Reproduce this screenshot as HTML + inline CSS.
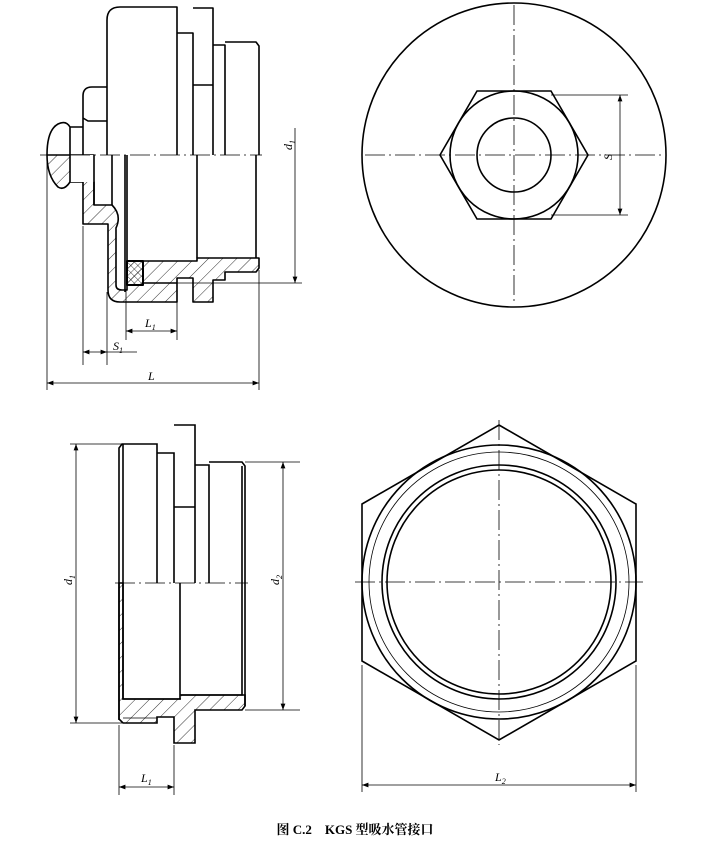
<!DOCTYPE html>
<html><head><meta charset="utf-8"><style>
html,body{margin:0;padding:0;background:#fff;width:711px;height:842px;overflow:hidden}
svg{display:block}
text{font-family:"Liberation Serif","Noto Serif CJK SC",serif;font-style:italic;font-size:12px;fill:#000}
</style></head><body>
<svg width="711" height="842" viewBox="0 0 711 842" xmlns="http://www.w3.org/2000/svg">
<defs>
<pattern id="h" width="10" height="10" patternUnits="userSpaceOnUse" patternTransform="rotate(45)">
<line x1="0" y1="0" x2="0" y2="10" stroke="#000" stroke-width="0.8"/></pattern>
<pattern id="x" width="5" height="5" patternUnits="userSpaceOnUse" patternTransform="rotate(45)">
<path d="M0 0V5M0 0H5" stroke="#000" stroke-width="0.7"/></pattern>
<marker id="a" markerWidth="8" markerHeight="6" refX="8" refY="3" orient="auto-start-reverse"><path d="M0 0L8 3L0 6z" fill="#000"/></marker>
</defs>
<g fill="none" stroke="#000" stroke-width="1.6" stroke-linejoin="round">
<!-- TOP LEFT upper half -->
<path d="M107 155V20Q107 7 120 7H177V155"/>
<path d="M177 33H193V155M193 8H213V155M193 85H213M213 45H225V155M225 42H256L259 46V155"/>
<path d="M83 155V96Q83 87 92 87H107M83 118L88 121H107"/>
<path d="M70 155V127H83M47 155Q47 130 58 124Q66 120 70 127"/>
<!-- lower section hatched -->
<path fill="url(#h)" d="M47 155Q47 176 58 187Q64 191 70 182H83V224H108V290Q108 302 120 302H177V278H193V302H213V280H225V272H256L259 268V258H197V261H127V290H122Q116 290 116 285V228Q122 215 112 205H94V182Q83 165 94 155Z"/>
<path fill="#fff" d="M70 155H94V182H70Z" stroke="none"/>
<path d="M70 155V182M94 155V205M112 155V205M125 155V292"/>
<rect x="127" y="261" width="16" height="24" fill="url(#x)" stroke-width="2"/>
<path d="M143 283H177M197 155V258M127 155V261M256 155V258"/>
</g>
<g fill="none" stroke="#000" stroke-width="0.8">
<path d="M40 155H262" stroke-dasharray="20 4 2 4"/>
<path d="M177 283H302"/>
<path d="M47 160V390M83 226V365M107 292V365M126 290V340M177 290V340M259 270V390"/>
<path d="M295 128V283" marker-end="url(#a)"/>
<path d="M126 331H177" marker-start="url(#a)" marker-end="url(#a)"/>
<path d="M83 352H107" marker-start="url(#a)" marker-end="url(#a)"/><path d="M107 352H137"/>
<path d="M47 383H259" marker-start="url(#a)" marker-end="url(#a)"/>
</g>
<text x="145" y="327">L<tspan font-size="8" dy="3">1</tspan></text>
<text x="113" y="350">S<tspan font-size="8" dy="3">1</tspan></text>
<text x="148" y="380">L</text>
<text transform="translate(292,150) rotate(-90)">d<tspan font-size="8" dy="3">1</tspan></text>

<!-- TOP RIGHT -->
<g fill="none" stroke="#000" stroke-width="1.6">
<circle cx="514" cy="155" r="152"/>
<path d="M440 155L477 91H551L588 155L551 219H477Z"/>
<circle cx="514" cy="155" r="64"/>
<circle cx="514" cy="155" r="37"/>
</g>
<g fill="none" stroke="#000" stroke-width="0.8">
<path d="M365 155H665M514 5V305" stroke-dasharray="20 4 2 4"/>
<path d="M551 95H628M551 215H628"/>
<path d="M620 95V215" marker-start="url(#a)" marker-end="url(#a)"/>
</g>
<text transform="translate(612,160) rotate(-90)">S</text>

<!-- BOTTOM LEFT -->
<g fill="none" stroke="#000" stroke-width="1.6">
<path d="M119 583V448L122 444H157V583M123 444V583M157 453H174V583M174 425H195V583M174 507H195M195 465H209V583M209 462H242L245 466V583M242 466V583"/>
<path fill="url(#h)" d="M119 583V719L123 723H157V717H174V743H195V710H209H242L245 706V695H180V699H123V583Z"/>
<path fill="#fff" stroke="none" d="M124 584H244V694H181V698H124Z"/>
<path d="M119 583V720M123 583V699H180V583M180 695H242V583M245 583V706"/>
<path d="M123 718H157" stroke-width="0.8"/>
</g>
<g fill="none" stroke="#000" stroke-width="0.8">
<path d="M115 583H248" stroke-dasharray="20 4 2 4"/>
<path d="M70 444H122M70 723H122M245 462H300M245 710H300"/>
<path d="M76 444V723" marker-start="url(#a)" marker-end="url(#a)"/>
<path d="M283 462V710" marker-start="url(#a)" marker-end="url(#a)"/>
<path d="M119 725V795M174 745V795"/>
<path d="M119 787H174" marker-start="url(#a)" marker-end="url(#a)"/>
</g>
<text transform="translate(72,585) rotate(-90)">d<tspan font-size="8" dy="3">1</tspan></text>
<text transform="translate(279,585) rotate(-90)">d<tspan font-size="8" dy="3">2</tspan></text>
<text x="141" y="782">L<tspan font-size="8" dy="3">1</tspan></text>

<!-- BOTTOM RIGHT -->
<g fill="none" stroke="#000" stroke-width="1.6">
<path d="M499 425L636 504V661L499 740L362 661V504Z"/>
<circle cx="499" cy="582" r="137"/>
<circle cx="499" cy="582" r="117"/>
<circle cx="499" cy="582" r="112"/>
</g>
<circle cx="499" cy="582" r="130" fill="none" stroke="#000" stroke-width="0.8"/>
<g fill="none" stroke="#000" stroke-width="0.8">
<path d="M355 582H643M499 420V745" stroke-dasharray="20 4 2 4"/>
<path d="M362 665V792M636 665V792"/>
<path d="M362 785H636" marker-start="url(#a)" marker-end="url(#a)"/>
</g>
<text x="495" y="781">L<tspan font-size="8" dy="3">2</tspan></text>

<text x="355" y="834" text-anchor="middle" style="font-family:'Liberation Serif','Noto Serif CJK SC',serif;font-style:normal;font-weight:bold;font-size:13px">图 C.2　KGS 型吸水管接口</text>
</svg>
</body></html>
